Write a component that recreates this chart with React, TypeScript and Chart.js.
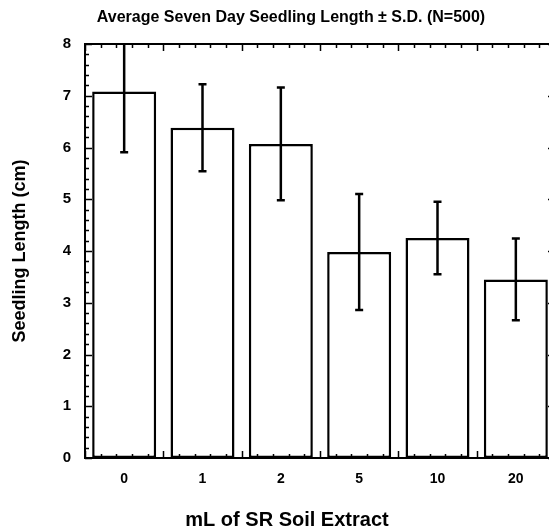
import React, { useEffect, useRef } from 'react';
import { Chart, registerables } from 'chart.js';

Chart.register(...registerables);

const categories = ['0', '1', '2', '5', '10', '20'];
const meanLengths = [7.08, 6.38, 6.07, 3.98, 4.25, 3.45];
const sdLengths = [1.17, 0.84, 1.09, 1.12, 0.7, 0.79];
const yMin = 0;
const yMax = 8;
const yMinorStep = 0.2;
const chartTitle = 'Average Seven Day Seedling Length ± S.D. (N=500)';
const xTitle = 'mL of SR Soil Extract';
const yTitle = 'Seedling Length (cm)';

const FONT = '"Liberation Sans", Arial, Helvetica, sans-serif';

const errorBarPlugin = {
  id: 'errorBars',
  afterDatasetsDraw(chart: any) {
    const ctx = chart.ctx;
    const meta = chart.getDatasetMeta(0);
    const y = chart.scales.y;
    const a = chart.chartArea;
    ctx.save();
    ctx.beginPath();
    ctx.rect(a.left, a.top - 1, a.right - a.left, a.bottom - a.top + 2);
    ctx.clip();
    ctx.strokeStyle = '#000';
    ctx.lineWidth = 2.5;
    meta.data.forEach((bar: any, i: number) => {
      const x = bar.x;
      const hi = y.getPixelForValue(meanLengths[i] + sdLengths[i]);
      const lo = y.getPixelForValue(meanLengths[i] - sdLengths[i]);
      ctx.beginPath();
      ctx.moveTo(x, hi);
      ctx.lineTo(x, lo);
      ctx.moveTo(x - 4, hi);
      ctx.lineTo(x + 4, hi);
      ctx.moveTo(x - 4, lo);
      ctx.lineTo(x + 4, lo);
      ctx.stroke();
    });
    ctx.restore();
  },
};

const framePlugin = {
  id: 'frameTicks',
  afterDraw(chart: any) {
    const ctx = chart.ctx;
    const a = chart.chartArea;
    const y = chart.scales.y;
    const x = chart.scales.x;
    ctx.save();
    ctx.strokeStyle = '#000';
    ctx.lineWidth = 2;
    ctx.strokeRect(a.left, a.top, a.right - a.left, a.bottom - a.top);
    ctx.lineWidth = 1.5;
    ctx.beginPath();
    const n = Math.round((yMax - yMin) / yMinorStep);
    for (let k = 0; k <= n; k++) {
      const v = yMin + k * yMinorStep;
      const py = Math.round(y.getPixelForValue(v)) + 0.5;
      const major = k % 5 === 0;
      const len = major ? 7 : 4;
      ctx.moveTo(a.left, py);
      ctx.lineTo(a.left + len, py);
      ctx.moveTo(a.right, py);
      ctx.lineTo(a.right - len, py);
    }
    const count = categories.length;
    for (let k = 0; k <= count * 5; k++) {
      const v = -0.5 + k / 5;
      const px = Math.round(x.getPixelForValue(v)) + 0.5;
      const major = k % 5 === 0;
      const len = major ? 7 : 4;
      ctx.moveTo(px, a.bottom);
      ctx.lineTo(px, a.bottom - len);
      ctx.moveTo(px, a.top);
      ctx.lineTo(px, a.top + len);
    }
    ctx.stroke();
    ctx.restore();
  },
};

// shift the centred title blocks to where the reference centres them
const titleShiftPlugin = {
  id: 'titleShift',
  afterLayout(chart: any) {
    (chart.boxes || []).forEach((b: any) => {
      const t = b && b.options && b.options.text;
      if (t === chartTitle) b.left += 27;
      if (t === xTitle) b.left += 19;
    });
  },
};

export default function App() {
  const ref = useRef<HTMLCanvasElement | null>(null);

  useEffect(() => {
    if (!ref.current) return;
    const chart = new Chart(ref.current, {
      type: 'bar',
      data: {
        labels: categories,
        datasets: [
          {
            data: meanLengths,
            backgroundColor: '#ffffff',
            borderColor: '#000000',
            borderWidth: 2.5,
            borderSkipped: false,
            barPercentage: 0.817,
            categoryPercentage: 1,
          },
        ],
      },
      options: {
        animation: false,
        responsive: false,
        maintainAspectRatio: false,
        layout: { padding: { left: 0, right: 25, top: 0, bottom: 0 } },
        plugins: {
          legend: { display: false },
          tooltip: { enabled: false },
          title: {
            display: true,
            text: chartTitle,
            color: '#000',
            font: { family: FONT, size: 16, weight: 'bold', lineHeight: 1.2 },
            padding: { top: 7.9, bottom: 16.9 },
          },
          subtitle: {
            display: true,
            position: 'bottom',
            text: xTitle,
            color: '#000',
            font: { family: FONT, size: 20, weight: 'bold', lineHeight: 1 },
            padding: { top: 12, bottom: 0 },
          },
        },
        scales: {
          x: {
            grid: { display: false, drawTicks: false },
            border: { display: false },
            ticks: {
              color: '#000',
              font: { family: FONT, size: 14, weight: 'bold' },
              padding: 13,
              maxRotation: 0,
            },
            afterFit(scale: any) {
              scale.height = 40;
            },
          },
          y: {
            min: yMin,
            max: yMax,
            grid: { display: false, drawTicks: false },
            border: { display: false },
            ticks: {
              stepSize: 1,
              color: '#000',
              font: { family: FONT, size: 15, weight: 'bold' },
              padding: 14,
            },
            title: {
              display: true,
              text: yTitle,
              color: '#000',
              font: { family: FONT, size: 18, weight: 'bold', lineHeight: 1 },
              padding: { top: 11, bottom: 0 },
            },
            afterFit(scale: any) {
              scale.width = 85;
            },
          },
        },
      },
      plugins: [errorBarPlugin, framePlugin, titleShiftPlugin],
    });
    return () => chart.destroy();
  }, []);

  return (
    <div
      style={{
        position: 'fixed',
        left: 0,
        top: 0,
        width: 549,
        height: 530,
        overflow: 'hidden',
        background: '#fff',
      }}
    >
      <canvas ref={ref} width={580} height={530} style={{ width: 580, height: 530, display: 'block' }} />
    </div>
  );
}
